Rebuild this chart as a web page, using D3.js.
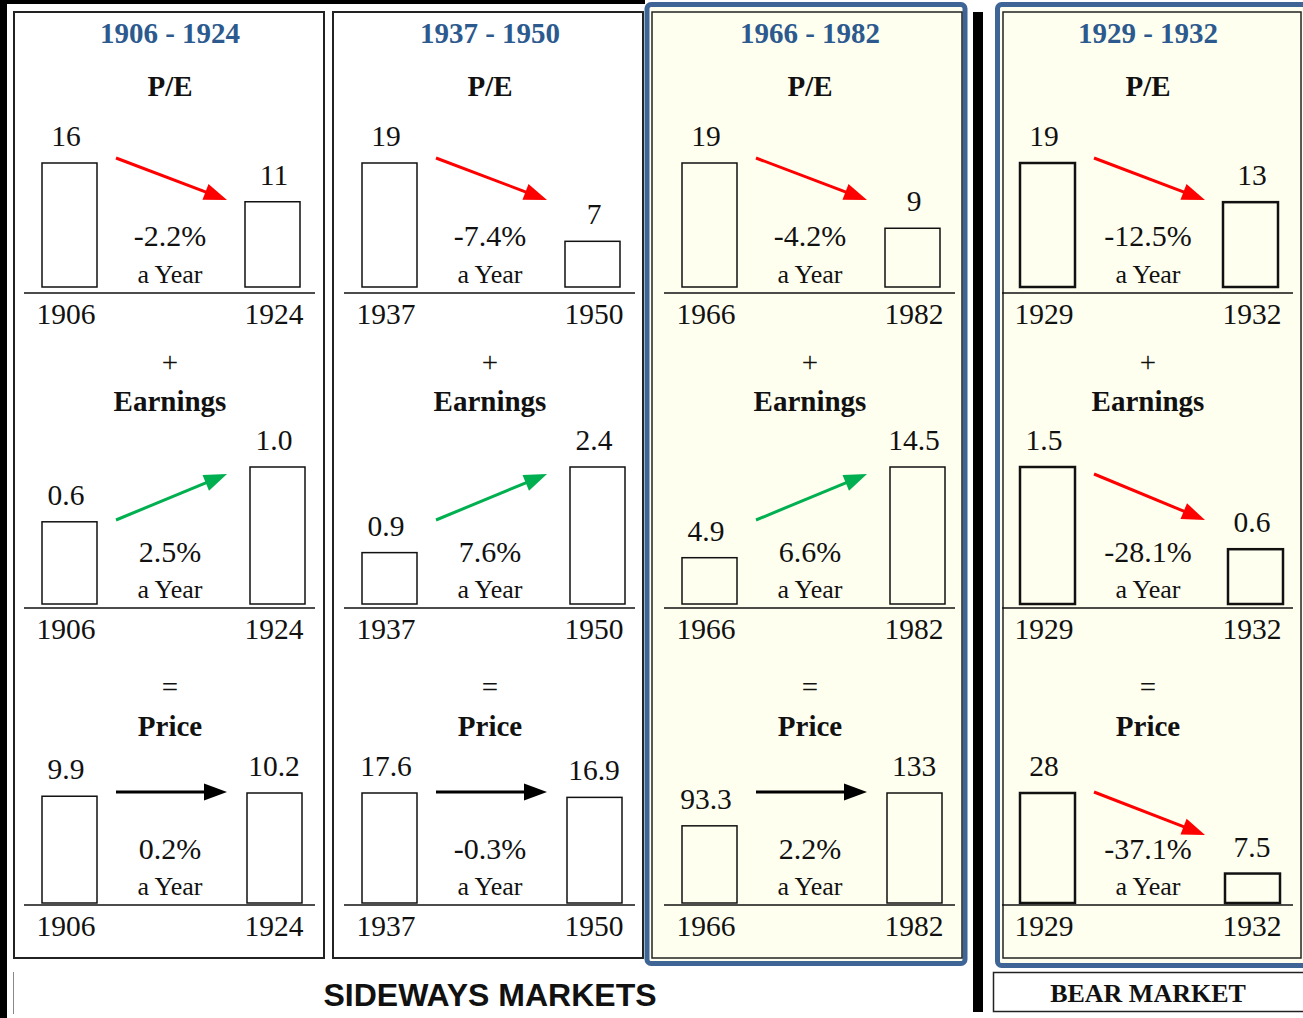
<!DOCTYPE html>
<html>
<head>
<meta charset="utf-8">
<script src="https://cdn.jsdelivr.net/npm/d3@7"></script>
<style>
  html, body { margin: 0; padding: 0; background: #ffffff; }
  svg { display: block; }
  text { font-family: "Liberation Serif", "Times New Roman", serif; fill: #111; }
</style>
</head>
<body>
<script>
// Periods compared in each panel
const periods     = ["1906 - 1924", "1937 - 1950", "1966 - 1982", "1929 - 1932"];
const startYears  = ["1906", "1937", "1966", "1929"];
const endYears    = ["1924", "1950", "1982", "1932"];

// P/E ratio at the start and end of each period, with annual change (%)
const peStart     = [16, 19, 19, 19];
const peEnd       = [11, 7, 9, 13];
const peRate      = [-2.2, -7.4, -4.2, -12.5];
const peTrend     = ["down", "down", "down", "down"];

// Earnings at the start and end of each period, with annual change (%)
const epsStart    = [0.6, 0.9, 4.9, 1.5];
const epsEnd      = [1.0, 2.4, 14.5, 0.6];
const epsRate     = [2.5, 7.6, 6.6, -28.1];
const epsTrend    = ["up", "up", "up", "down"];

// Price at the start and end of each period, with annual change (%)
const priceStart  = [9.9, 17.6, 93.3, 28];
const priceEnd    = [10.2, 16.9, 133, 7.5];
const priceRate   = [0.2, -0.3, 2.2, -37.1];
const priceTrend  = ["flat", "flat", "flat", "down"];

const W = 1303, H = 1018;
const svg = d3.select("body").append("svg").attr("width", W).attr("height", H);

const cream = "#FFFFF0";
const frameBlue = "#3E6596";
const titleBlue = "#2C5A8E";

// ---- outer decoration ----
svg.append("rect").attr("x", 0).attr("y", 0).attr("width", 7).attr("height", H).attr("fill", "#000");
svg.append("rect").attr("x", 0).attr("y", 0).attr("width", 645).attr("height", 4).attr("fill", "#000");
svg.append("rect").attr("x", 973).attr("y", 12).attr("width", 10).attr("height", 1000).attr("fill", "#000");
svg.append("line").attr("x1", 13.5).attr("x2", 13.5).attr("y1", 972).attr("y2", 1014)
  .attr("stroke", "#888").attr("stroke-width", 1);

// ---- panel frames ----
const frames = [
  { x: 14, w: 310, fill: "#fff", blue: null },
  { x: 333, w: 310, fill: "#fff", blue: null },
  { x: 652, w: 310, fill: cream, blue: { x: 647, w: 318, h: 959 } },
  { x: 1003, w: 298, fill: cream, blue: { x: 997.5, w: 330, h: 961 } }
];
frames.forEach(f => {
  if (f.blue) {
    svg.append("rect").attr("x", f.blue.x).attr("y", 4.5).attr("width", f.blue.w).attr("height", f.blue.h)
      .attr("rx", 4).attr("fill", cream).attr("stroke", frameBlue).attr("stroke-width", 5);
  }
  svg.append("rect").attr("x", f.x).attr("y", 12).attr("width", f.w).attr("height", 946)
    .attr("fill", f.fill).attr("stroke", "#222").attr("stroke-width", f.blue ? 1.5 : 2);
});

// content origin of each panel
const origins = [14, 334, 654, 992];

// label positions inside a panel (start / end)
const xPos = d3.scalePoint().domain(["start", "end"]).range([52, 260]);
const centerX = 156;

const rows = [
  { heading: "P/E", sign: null, signY: 0, headY: 96, bottom: 287, maxH: 124,
    arrowTop: 158, drop: 42, rateY: 246, yearTextY: 283, lineY: 293, yearY: 324, endShift: -29,
    start: peStart, end: peEnd, rate: peRate, trend: peTrend, fmt: v => String(v) },
  { heading: "Earnings", sign: "+", signY: 372, headY: 411, bottom: 604, maxH: 137,
    arrowTop: 474, drop: 46, rateY: 562, yearTextY: 598, lineY: 608, yearY: 639, endShift: -24,
    start: epsStart, end: epsEnd, rate: epsRate, trend: epsTrend, fmt: v => v.toFixed(1) },
  { heading: "Price", sign: "=", signY: 697, headY: 736, bottom: 903, maxH: 110,
    arrowTop: 792, drop: 43, rateY: 859, yearTextY: 895, lineY: 905, yearY: 936, endShift: -27,
    start: priceStart, end: priceEnd, rate: priceRate, trend: priceTrend, fmt: v => String(v) }
];

const trendColor = d3.scaleOrdinal().domain(["down", "up", "flat"]).range(["#FF0000", "#00B050", "#000000"]);

function arrow(g, x1, y1, x2, y2, color) {
  const ang = Math.atan2(y2 - y1, x2 - x1);
  const len = 23, half = 8.5;
  const bx = x2 - len * Math.cos(ang), by = y2 - len * Math.sin(ang);
  g.append("line").attr("x1", x1).attr("y1", y1).attr("x2", bx + 2 * Math.cos(ang)).attr("y2", by + 2 * Math.sin(ang))
    .attr("stroke", color).attr("stroke-width", 3);
  const px = -Math.sin(ang) * half, py = Math.cos(ang) * half;
  g.append("path")
    .attr("d", `M${x2},${y2}L${bx + px},${by + py}L${bx - px},${by - py}Z`)
    .attr("fill", color);
}

periods.forEach((period, i) => {
  const g = svg.append("g").attr("transform", `translate(${origins[i]},0)`);
  const bear = i === 3;
  const barFill = i >= 2 ? cream : "#fff";

  g.append("text").attr("x", centerX).attr("y", 43).attr("text-anchor", "middle")
    .attr("font-size", 29).attr("font-weight", "bold").style("fill", titleBlue).text(period);

  rows.forEach(r => {
    if (r.sign) {
      g.append("text").attr("x", centerX).attr("y", r.signY).attr("text-anchor", "middle")
        .attr("font-size", 29).text(r.sign);
    }
    g.append("text").attr("x", centerX).attr("y", r.headY).attr("text-anchor", "middle")
      .attr("font-size", 29).attr("font-weight", "bold").text(r.heading);

    const s = r.start[i], e = r.end[i];
    const h = d3.scaleLinear().domain([0, Math.max(s, e)]).range([0, r.maxH]);
    const bars = [
      { key: "start", v: s, x: xPos("start") - 24 },
      { key: "end", v: e, x: xPos("end") + r.endShift }
    ];
    bars.forEach(b => {
      const top = r.bottom - h(b.v);
      g.append("rect").attr("x", b.x).attr("y", top).attr("width", 55).attr("height", h(b.v))
        .attr("fill", barFill).attr("stroke", "#111").attr("stroke-width", bear ? 2.5 : 1.5);
      g.append("text").attr("x", xPos(b.key)).attr("y", top - 17).attr("text-anchor", "middle")
        .attr("font-size", 29.5).text(r.fmt(b.v));
    });

    // direction arrow
    const t = r.trend[i];
    const x1 = 102, x2 = 213;
    let y1, y2;
    if (t === "down") { y1 = r.arrowTop; y2 = r.arrowTop + r.drop; }
    else if (t === "up") { y1 = r.arrowTop + r.drop; y2 = r.arrowTop; }
    else { y1 = y2 = r.arrowTop; }
    arrow(g, x1, y1, x2, y2, trendColor(t));

    g.append("text").attr("x", centerX).attr("y", r.rateY).attr("text-anchor", "middle")
      .attr("font-size", 30).text(r.rate[i].toFixed(1) + "%");
    g.append("text").attr("x", centerX).attr("y", r.yearTextY).attr("text-anchor", "middle")
      .attr("font-size", 26).text("a Year");

    g.append("line").attr("x1", 10).attr("x2", 301).attr("y1", r.lineY).attr("y2", r.lineY)
      .attr("stroke", "#111").attr("stroke-width", 1.5);
    g.append("text").attr("x", xPos("start")).attr("y", r.yearY).attr("text-anchor", "middle")
      .attr("font-size", 29.5).text(startYears[i]);
    g.append("text").attr("x", xPos("end")).attr("y", r.yearY).attr("text-anchor", "middle")
      .attr("font-size", 29.5).text(endYears[i]);
  });
});

// ---- group captions ----
svg.append("text").attr("x", 490).attr("y", 1006).attr("text-anchor", "middle")
  .style("font-family", "'Liberation Sans', Arial, sans-serif").attr("font-size", 32)
  .attr("font-weight", "bold").text("SIDEWAYS MARKETS");
svg.append("rect").attr("x", 993.5).attr("y", 972.5).attr("width", 312).attr("height", 39)
  .attr("fill", "#fff").attr("stroke", "#222").attr("stroke-width", 1.5);
svg.append("text").attr("x", 1148).attr("y", 1002).attr("text-anchor", "middle")
  .attr("font-size", 26).attr("font-weight", "bold").text("BEAR MARKET");
</script>
</body>
</html>
